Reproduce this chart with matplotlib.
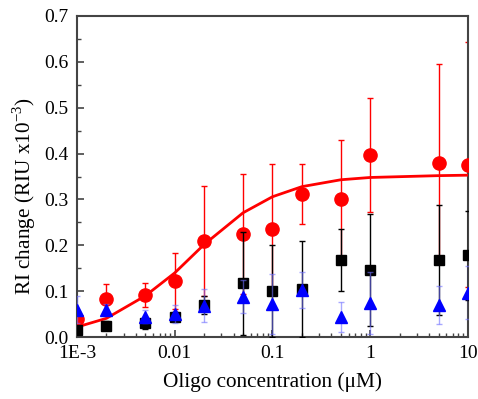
import numpy as np
import matplotlib
matplotlib.use('Agg')
import matplotlib.pyplot as plt
from matplotlib.ticker import FixedLocator, NullFormatter, MultipleLocator, FormatStrFormatter

plt.rcParams['font.family'] = ['Liberation Serif', 'DejaVu Serif']
plt.rcParams['mathtext.fontset'] = 'custom'
plt.rcParams['mathtext.rm'] = 'Liberation Serif'

# oligo concentration (uM)
conc = [0.001, 0.002, 0.005, 0.01, 0.02, 0.05, 0.1, 0.2, 0.5, 1, 5, 10]

# red circles
red_y = [0.040, 0.083, 0.092, 0.123, 0.210, 0.225, 0.235, 0.312, 0.300, 0.397, 0.380, 0.376]
red_err = [0.012, 0.032, 0.026, 0.061, 0.120, 0.131, 0.143, 0.066, 0.130, 0.125, 0.215, 0.267]

# black squares
blk_y = [0.015, 0.025, 0.030, 0.045, 0.070, 0.117, 0.100, 0.105, 0.168, 0.147, 0.168, 0.178]
blk_err = [0.008, 0.010, 0.012, 0.010, 0.020, 0.113, 0.100, 0.105, 0.067, 0.122, 0.120, 0.098]

# blue triangles
blu_y = [0.060, 0.060, 0.045, 0.050, 0.068, 0.088, 0.072, 0.103, 0.044, 0.074, 0.070, 0.097]
blu_err = [0.030, 0.012, 0.015, 0.020, 0.036, 0.036, 0.066, 0.040, 0.033, 0.068, 0.042, 0.058]

# red fitted curve (values read at each concentration)
fit_y = [0.022, 0.041, 0.090, 0.140, 0.202, 0.271, 0.306, 0.328, 0.343, 0.348, 0.352, 0.353]

fig = plt.figure(figsize=(4.78, 3.99), dpi=100)
ax = fig.add_axes([0.161, 0.155, 0.818, 0.805])

ax.errorbar(conc, red_y, yerr=red_err, fmt='none', ecolor='red', elinewidth=1,
            capsize=2.5, capthick=1, zorder=2)
ax.plot(conc, fit_y, '-', color='red', lw=2, zorder=3)
ax.plot(conc, red_y, 'o', color='red', ms=9.5, mec='red', zorder=3)

ax.errorbar(conc, blk_y, yerr=blk_err, fmt='none', ecolor='black', elinewidth=1,
            capsize=2.5, capthick=1, zorder=4)
ax.plot(conc, blk_y, 's', color='black', ms=7, zorder=5)

ax.errorbar(conc, blu_y, yerr=blu_err, fmt='none', ecolor='#6f6fff', elinewidth=1,
            capsize=2.5, capthick=1, alpha=0.6, zorder=6)
ax.plot(conc, blu_y, '^', color='#0000ff', ms=9, zorder=7)

ax.set_xscale('log')
ax.set_xlim(0.001, 10)
ax.set_ylim(0, 0.7)

ax.xaxis.set_major_locator(FixedLocator([0.001, 0.01, 0.1, 1, 10]))
ax.set_xticklabels(['1E-3', '0.01', '0.1', '1', '10'])
minor = [m * 10.0 ** e for e in range(-3, 1) for m in range(2, 10)]
ax.xaxis.set_minor_locator(FixedLocator(minor))
ax.xaxis.set_minor_formatter(NullFormatter())

ax.yaxis.set_major_locator(MultipleLocator(0.1))
ax.yaxis.set_minor_locator(MultipleLocator(0.05))
ax.yaxis.set_major_formatter(FormatStrFormatter('%.1f'))

ax.tick_params(which='both', direction='in', labelsize=14, color='#444444')
ax.tick_params(which='major', length=5, width=1.2, pad=6)
ax.tick_params(which='minor', length=3, width=1)
for s in ax.spines.values():
    s.set_color('#444444')
    s.set_linewidth(1.5)

ax.set_xlabel('Oligo concentration (\u03bcM)', fontsize=15.3, labelpad=7)
ax.set_ylabel('RI change (RIU x10$^{-3}$)', fontsize=15.3)
ax.yaxis.set_label_coords(-0.1, 0.44)

plt.savefig('out.png', dpi=100)
